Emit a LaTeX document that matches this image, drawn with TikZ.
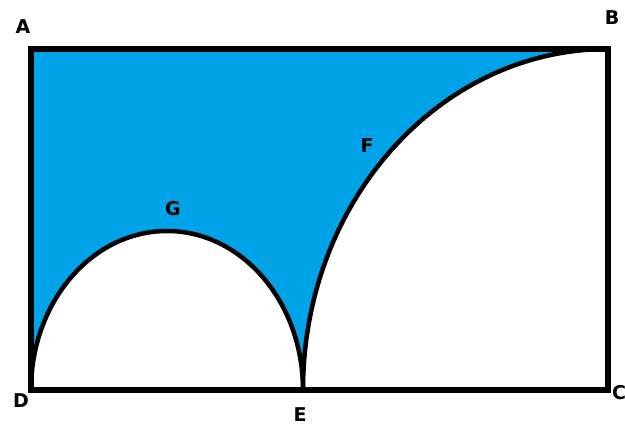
\documentclass[tikz,border=0pt]{standalone}
\usepackage{fontspec}
\setmainfont{DejaVu Sans}
\definecolor{paintblue}{HTML}{00A2E8}
\begin{document}
\begin{tikzpicture}[x=1pt,y=1pt,
  lbl/.style={font=\bfseries\fontsize{19}{22}\selectfont, inner sep=0pt, text=black},
  edge/.style={line width=5.5pt, line join=miter},
  curve/.style={line width=4.5pt}]
\useasboundingbox (0,0) rectangle (625,425);
\coordinate (A) at (31,376);
\coordinate (B) at (608,376);
\coordinate (C) at (608,35);
\coordinate (D) at (31,35);
\coordinate (E) at (303,35);
% shaded region
\fill[paintblue] (A) -- (B) arc[start angle=90, end angle=180, x radius=305, y radius=341]
  arc[start angle=0, end angle=180, x radius=136, y radius=159] -- cycle;
% arcs
\draw[curve] (E) arc[start angle=180, end angle=90, x radius=305, y radius=341];
\draw[curve] (D) arc[start angle=180, end angle=0, x radius=136, y radius=159];
% rectangle
\draw[edge] (A) rectangle (C);
% labels
\node[lbl] (la) at (23,398) {A};
\node[lbl] (lb) at (612,407) {B};
\node[lbl, anchor=west] (lc) at (612,32) {C};
\node[lbl] (ld) at (21,24) {D};
\node[lbl] (le) at (300,10) {E};
\node[lbl] (lf) at (367,279) {F};
\node[lbl] (lg) at (173,216) {G};
\end{tikzpicture}
\end{document}
